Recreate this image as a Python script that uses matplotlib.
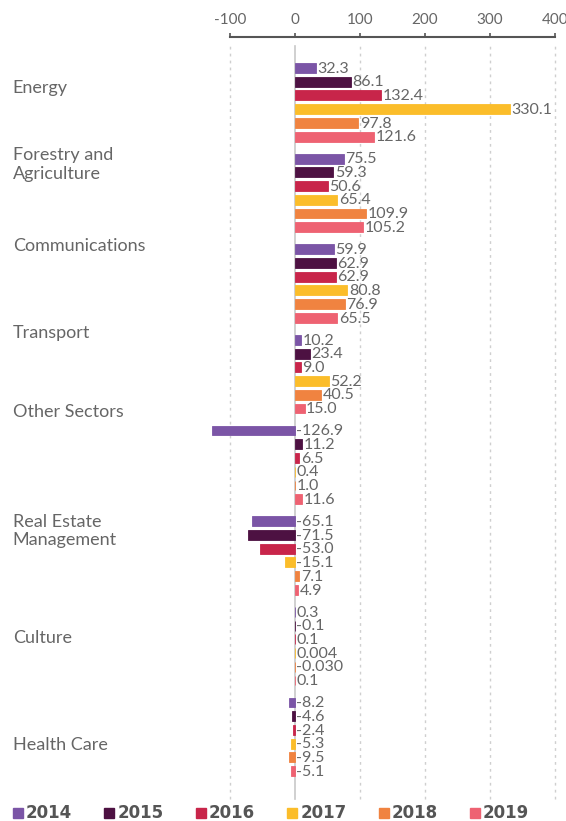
import matplotlib
matplotlib.use("Agg")
import matplotlib.pyplot as plt
from matplotlib.patches import Rectangle

plt.rcParams['font.family'] = ['Lato', 'DejaVu Sans']

categories = ["Energy", "Forestry and\nAgriculture", "Communications", "Transport",
              "Other Sectors", "Real Estate\nManagement", "Culture", "Health Care"]
years = ["2014", "2015", "2016", "2017", "2018", "2019"]
values = {
    "2014": [32.3, 75.5, 59.9, 10.2, -126.9, -65.1, 0.3, -8.2],
    "2015": [86.1, 59.3, 62.9, 23.4, 11.2, -71.5, -0.1, -4.6],
    "2016": [132.4, 50.6, 62.9, 9.0, 6.5, -53.0, 0.1, -2.4],
    "2017": [330.1, 65.4, 80.8, 52.2, 0.4, -15.1, 0.004, -5.3],
    "2018": [97.8, 109.9, 76.9, 40.5, 1.0, 7.1, -0.030, -9.5],
    "2019": [121.6, 105.2, 65.5, 15.0, 11.6, 4.9, 0.1, -5.1],
}
colors = ["#7B55A6", "#4D1142", "#C8254A", "#FBBD2A", "#F08340", "#EE6272"]
xticks = [-100, 0, 100, 200, 300, 400]
# vertical offset of each category label relative to its first bar (in bar units)
label_offsets = [1.45, 0.43, -0.22, -0.5, -1.38, 0.72, 1.88, 3.1]

GROUP = 6.6
BAR_H = 0.72
TEXT = "#666666"

fig = plt.figure(figsize=(5.66, 8.21), dpi=100)
ax = fig.add_axes([205/566, 21/821, 353.3/566, (800-37)/821])

for j, yr in enumerate(years):
    ys = [i * GROUP + j for i in range(len(categories))]
    ax.barh(ys, values[yr], height=BAR_H, color=colors[j], edgecolor=colors[j],
            linewidth=0.6, zorder=3)
    for y, v in zip(ys, values[yr]):
        s = f"{v:.3f}" if (abs(v) < 0.05 and v != 0) else f"{v:.1f}"
        xpos = max(v, 0) + 2.5
        ax.text(xpos, y + 0.05, s, va='center', ha='left', fontsize=11.5, color=TEXT, zorder=4)

ax.set_xlim(-138, 405)
ax.set_ylim((len(categories) - 1) * GROUP + 5 + 2.1, -2.25)

for t in xticks:
    if t == 0:
        ax.plot([0, 0], [ax.get_ylim()[0] - 0.1, -1.6], color="#c8c8c8", lw=1.2, zorder=2)
    else:
        ax.plot([t, t], [ax.get_ylim()[0] - 0.1, -1.6], color="#cfcfcf", lw=1.0,
                ls=(0, (2, 3)), zorder=1)

for s in ["right", "bottom", "left"]:
    ax.spines[s].set_visible(False)
ax.spines["top"].set_bounds(-100, 400)
ax.spines["top"].set_color("#555555")
ax.spines["top"].set_linewidth(1.5)
ax.xaxis.tick_top()
ax.set_xticks(xticks)
ax.set_xticklabels([str(t) for t in xticks])
ax.tick_params(axis='x', direction='out', length=3, width=1.2, color="#555555",
               labelsize=11, labelcolor=TEXT, pad=4)
ax.set_yticks([])

# category labels
for i, (c, off) in enumerate(zip(categories, label_offsets)):
    ax.text(-138 - 192/0.65, i * GROUP + off, c, ha='left', va='center',
            fontsize=13, color=TEXT, linespacing=1.2, clip_on=False)

# legend
for j, yr in enumerate(years):
    x0 = 13 + j * 91.4
    fig.patches.append(Rectangle((x0/566, (821-818)/821), 10/566, 10/821,
                                 transform=fig.transFigure, color=colors[j]))
    fig.text((x0 + 13)/566, (821-813)/821, yr, ha='left', va='center',
             fontsize=12, fontweight='bold', color="#555555", family='DejaVu Sans')

fig.savefig("out.png", dpi=100)
